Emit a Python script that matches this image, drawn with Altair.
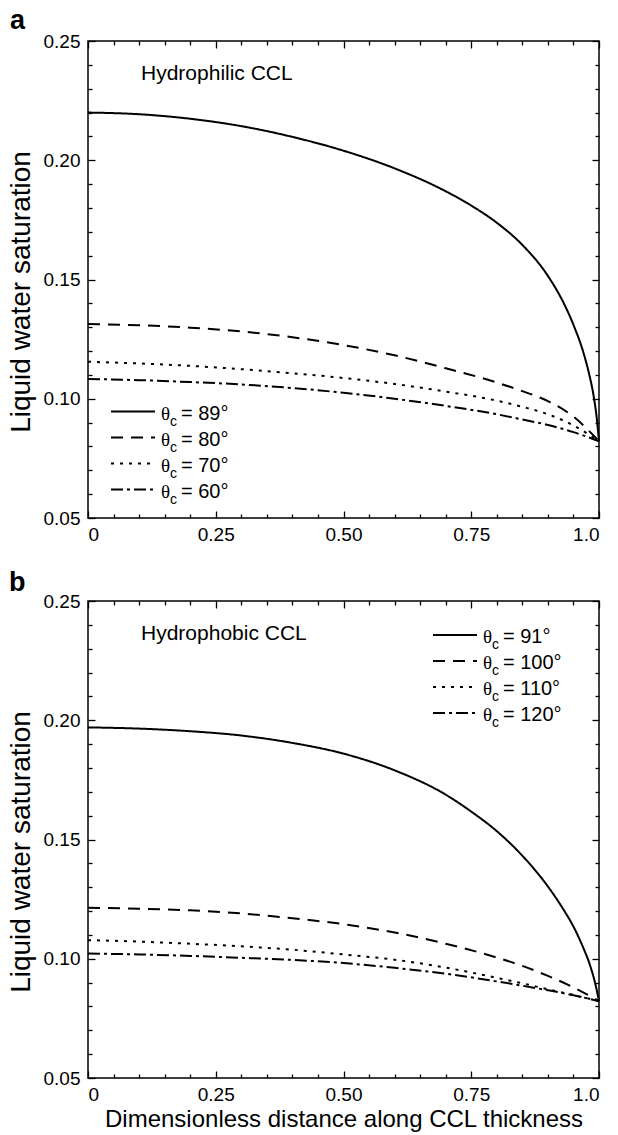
import altair as alt
import pandas as pd

# ---------------- data ----------------
x_solid = [0, 0.1, 0.2, 0.3, 0.4, 0.5, 0.6, 0.7, 0.75, 0.8, 0.85, 0.9, 0.93, 0.95, 0.97, 0.98, 0.99, 0.995, 1.0]
x_other = [0, 0.1, 0.2, 0.3, 0.4, 0.5, 0.6, 0.7, 0.8, 0.85, 0.9, 0.95, 1.0]

# panel a: hydrophilic
s89 = [0.2200, 0.2193, 0.2174, 0.2143, 0.2098, 0.2040, 0.1966, 0.1870, 0.1810, 0.1738, 0.1645,
       0.1515, 0.1405, 0.1310, 0.1190, 0.1110, 0.1005, 0.0930, 0.0822]
s80 = [0.1313, 0.1308, 0.1298, 0.1282, 0.1258, 0.1225, 0.1182, 0.1128, 0.1068, 0.1032, 0.0990, 0.0925, 0.0822]
s70 = [0.1155, 0.1148, 0.1138, 0.1124, 0.1107, 0.1087, 0.1062, 0.1030, 0.0992, 0.0966, 0.0935, 0.0888, 0.0822]
s60 = [0.1083, 0.1078, 0.1070, 0.1060, 0.1045, 0.1025, 0.1000, 0.0970, 0.0935, 0.0913, 0.0890, 0.0860, 0.0822]

# panel b: hydrophobic
s91 = [0.1970, 0.1965, 0.1954, 0.1936, 0.1905, 0.1860, 0.1790, 0.1688, 0.1617, 0.1535, 0.1432,
       0.1303, 0.1208, 0.1135, 0.1042, 0.0988, 0.0918, 0.0874, 0.0822]
s100 = [0.1214, 0.1210, 0.1203, 0.1190, 0.1170, 0.1145, 0.1110, 0.1063, 0.1005, 0.0970, 0.0928, 0.0880, 0.0822]
s110 = [0.1078, 0.1072, 0.1063, 0.1052, 0.1038, 0.1018, 0.0996, 0.0963, 0.0920, 0.0897, 0.0872, 0.0848, 0.0822]
s120 = [0.1022, 0.1018, 0.1012, 0.1004, 0.0995, 0.0982, 0.0962, 0.0937, 0.0905, 0.0887, 0.0868, 0.0847, 0.0822]

angles_a = ["89°", "80°", "70°", "60°"]
angles_b = ["91°", "100°", "110°", "120°"]

x_major = [0, 0.25, 0.5, 0.75, 1.0]
x_minor = [0.05, 0.1, 0.15, 0.2, 0.3, 0.35, 0.4, 0.45, 0.55, 0.6, 0.65, 0.7, 0.8, 0.85, 0.9, 0.95]
y_major = [0.05, 0.10, 0.15, 0.20, 0.25]
y_minor = [0.06, 0.07, 0.08, 0.09, 0.11, 0.12, 0.13, 0.14, 0.16, 0.17, 0.18, 0.19,
           0.21, 0.22, 0.23, 0.24]

# ---------------- styling ----------------
W, H = 511, 477
FONT = "Liberation Sans"
dash_range = [[1, 0], [12, 8], [3, 6], [12, 4, 3, 4]]
MAJ, MIN = 7, 4
X_SCALE = alt.Scale(domain=[0, 1], nice=False, zero=False)
Y_SCALE = alt.Scale(domain=[0.05, 0.25], nice=False, zero=False)
one = pd.DataFrame({"k": [0]})


def build_df(xs_list, ys_list, names):
    rows = []
    for xs, ys, n in zip(xs_list, ys_list, names):
        for xv, yv in zip(xs, ys):
            rows.append({"x": xv, "s": yv, "series": n})
    return pd.DataFrame(rows)


def tick_axis(orient, values, size):
    return alt.Axis(orient=orient, values=values, tickSize=size, offset=-size, domain=False,
                    grid=False, labels=False, title=None, tickColor="black", tickWidth=1.3)


def panel(df, names, annotation, leg_x, leg_y0, letter, letter_xy, x_title):
    xa = alt.Axis(orient="bottom", values=x_major, tickSize=MAJ, offset=-MAJ, domain=False, grid=False,
                  tickColor="black", tickWidth=1.3, labelFont=FONT, labelFontSize=19, labelColor="black",
                  labelPadding=7,
                  labelExpr="datum.value == 0 ? '0' : (datum.value == 1 ? '1.0' : format(datum.value, '.2f'))",
                  title=x_title if x_title else None, titleFont=FONT, titleFontSize=24,
                  titleFontWeight="normal", titleColor="black", titlePadding=3)
    ya = alt.Axis(orient="left", values=y_major, tickSize=MAJ, offset=-MAJ, domain=False, grid=False,
                  tickColor="black", tickWidth=1.3, labelFont=FONT, labelFontSize=19, labelColor="black",
                  labelPadding=8, format=".2f",
                  title="Liquid water saturation", titleFont=FONT, titleFontSize=28,
                  titleFontWeight="normal", titleColor="black", titlePadding=8, titleY=H / 2 + 12)
    sd = alt.StrokeDash("series:N", scale=alt.Scale(domain=names, range=dash_range), legend=None)

    lines = alt.Chart(df).mark_line(color="black", strokeWidth=2, interpolate="monotone").encode(
        x=alt.X("x:Q", scale=X_SCALE, axis=xa),
        y=alt.Y("s:Q", scale=Y_SCALE, axis=ya),
        strokeDash=sd,
    )

    def ghost(xax, yax):
        return alt.Chart(df).mark_line(opacity=0).encode(
            x=alt.X("x:Q", scale=X_SCALE, axis=xax),
            y=alt.Y("s:Q", scale=Y_SCALE, axis=yax),
            detail="series:N",
        )

    layers = [
        lines,
        ghost(tick_axis("bottom", x_minor, MIN), tick_axis("left", y_minor, MIN)),
        ghost(tick_axis("top", x_major, MAJ), tick_axis("right", y_major, MAJ)),
        ghost(tick_axis("top", x_minor, MIN), tick_axis("right", y_minor, MIN)),
    ]

    # annotation and panel letter
    layers.append(alt.Chart(one).mark_text(font=FONT, fontSize=21, align="left", baseline="alphabetic",
                                           color="black").encode(
        x=alt.value(53), y=alt.value(39), text=alt.value(annotation)))
    layers.append(alt.Chart(one).mark_text(font=FONT, fontSize=27, fontWeight="bold", align="left",
                                           baseline="alphabetic", color="black").encode(
        x=alt.value(letter_xy[0]), y=alt.value(letter_xy[1]), text=alt.value(letter)))

    # manual legend
    for i, (n, dash) in enumerate(zip(names, dash_range)):
        ly = leg_y0 + i * 26
        layers.append(alt.Chart(one).mark_rule(color="black", strokeWidth=2, strokeDash=dash).encode(
            x=alt.value(leg_x), x2=alt.value(leg_x + 44), y=alt.value(ly)))
        tx = leg_x + 50
        layers.append(alt.Chart(one).mark_text(font="Liberation Serif", fontSize=19, align="left",
                                               baseline="alphabetic", color="black").encode(
            x=alt.value(tx), y=alt.value(ly + 8), text=alt.value("θ")))
        layers.append(alt.Chart(one).mark_text(font=FONT, fontSize=14, align="left",
                                               baseline="alphabetic", color="black").encode(
            x=alt.value(tx + 9), y=alt.value(ly + 14), text=alt.value("c")))
        layers.append(alt.Chart(one).mark_text(font=FONT, fontSize=20, align="left",
                                               baseline="alphabetic", color="black").encode(
            x=alt.value(tx + 20), y=alt.value(ly + 8), text=alt.value("= " + n)))
    return layers


df_a = build_df([x_solid, x_other, x_other, x_other], [s89, s80, s70, s60], angles_a)
df_b = build_df([x_solid, x_other, x_other, x_other], [s91, s100, s110, s120], angles_b)

layers_a = panel(df_a, angles_a, "Hydrophilic CCL", 23, 370.5, "a", (-78, -12), None)
# white anchor fixing the top-left origin of the page
layers_a.append(alt.Chart(one).mark_rule(color="white", strokeWidth=1).encode(
    x=alt.value(-86.5), y=alt.value(-39.5), y2=alt.value(-38.5)))
layers_b = panel(df_b, angles_b, "Hydrophobic CCL", 345, 34, "b", (-79, -10),
                 "Dimensionless distance along CCL thickness")

chart_a = alt.layer(*layers_a).resolve_axis(x="independent", y="independent").properties(width=W, height=H)
chart_b = alt.layer(*layers_b).resolve_axis(x="independent", y="independent").properties(width=W, height=H)

chart = alt.vconcat(chart_a, chart_b, spacing=83, bounds="flush").properties(
    padding=0
).configure(font=FONT).configure_view(stroke="black", strokeWidth=1.5)

chart.save("out.html", embed_options={"renderer": "svg", "actions": False})
